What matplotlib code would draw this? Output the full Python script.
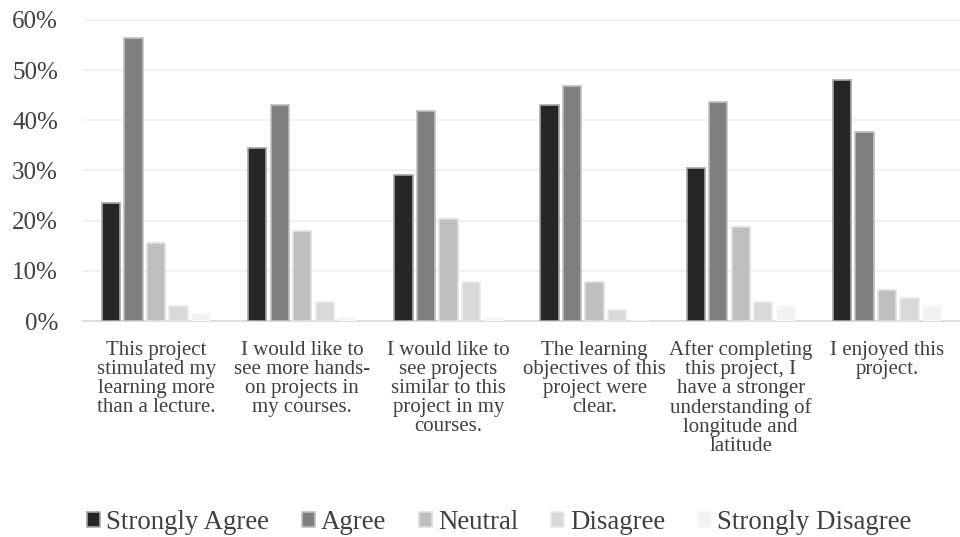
import matplotlib
matplotlib.use("Agg")
import matplotlib.pyplot as plt
import numpy as np
from matplotlib.ticker import PercentFormatter

categories = [
    "This project\nstimulated my\nlearning more\nthan a lecture.",
    "I would like to\nsee more hands-\non projects in\nmy courses.",
    "I would like to\nsee projects\nsimilar to this\nproject in my\ncourses.",
    "The learning\nobjectives of this\nproject were\nclear.",
    "After completing\nthis project, I\nhave a stronger\nunderstanding of\nlongitude and\nlatitude",
    "I enjoyed this\nproject.",
]
series_names = ["Strongly Agree", "Agree", "Neutral", "Disagree", "Strongly Disagree"]
strongly_agree = [23.5, 34.4, 29.1, 43.0, 30.5, 48.0]
agree = [56.3, 43.0, 41.8, 46.8, 43.6, 37.7]
neutral = [15.5, 17.9, 20.3, 7.8, 18.7, 6.2]
disagree = [3.0, 3.8, 7.8, 2.2, 3.8, 4.6]
strongly_disagree = [1.4, 0.7, 0.7, 0.0, 3.0, 3.0]
yticks = [0, 10, 20, 30, 40, 50, 60]

series = [strongly_agree, agree, neutral, disagree, strongly_disagree]
colors = ["#262626", "#7f7f7f", "#bfbfbf", "#d9d9d9", "#f2f2f2"]
edges = ["#a6a6a6", "#bfbfbf", "#e0e0e0", "#ebebeb", "#f7f7f7"]

plt.rcParams['font.family'] = ['Liberation Serif', 'DejaVu Serif']

fig = plt.figure(figsize=(9.6, 5.37), dpi=100)
ax = fig.add_axes([0.0865, 0.402, 0.9135, 0.561])

x = np.arange(len(categories))
step = 0.154
width = 0.125
for i, (vals, c, e, n) in enumerate(zip(series, colors, edges, series_names)):
    ax.bar(x + (i - 2) * step, vals, width=width, color=c, edgecolor=e, linewidth=1.2, label=n, zorder=3)

ax.set_xlim(-0.5, len(categories) - 0.5)
ax.set_ylim(0, 60)
ax.set_yticks(yticks)
ax.yaxis.set_major_formatter(PercentFormatter(decimals=0))
ax.grid(axis='y', color='#eeeeee', linewidth=1.2, zorder=0)
for s in ['left', 'right', 'top']:
    ax.spines[s].set_visible(False)
ax.spines['bottom'].set_color('#d9d9d9')
ax.spines['bottom'].set_linewidth(1.2)
ax.tick_params(axis='y', length=0, labelsize=18, colors='#404040', pad=18)
ax.tick_params(axis='x', length=0, labelsize=15, colors='#404040', pad=14)
ax.set_xticks(x)
ax.set_xticklabels(categories, linespacing=1.0)

leg = fig.legend(loc='center', bbox_to_anchor=(0.520, 0.027), ncol=5, frameon=False,
                 fontsize=19.4, handlelength=0.48, handleheight=0.5, handletextpad=0.22,
                 columnspacing=1.22, labelcolor='#404040')

fig.savefig("out.png", dpi=100)
